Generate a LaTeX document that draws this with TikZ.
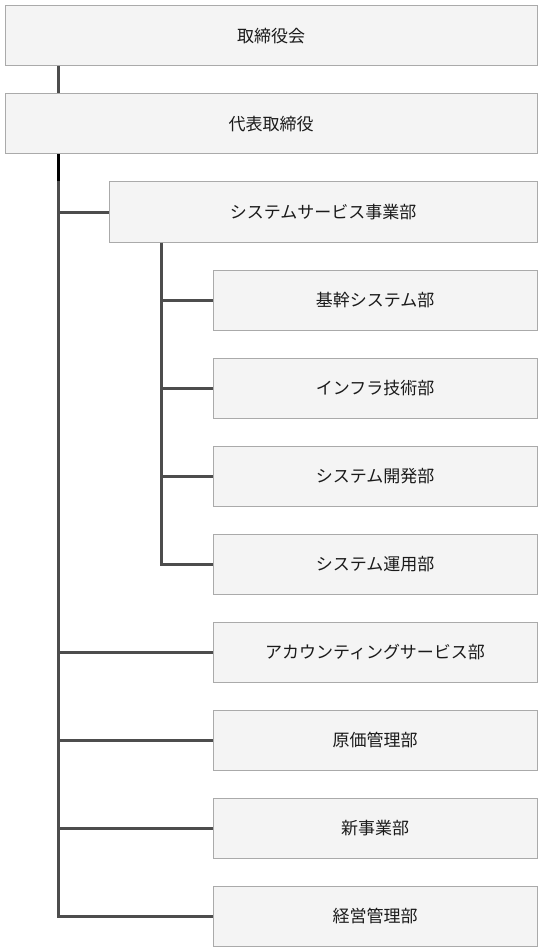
\documentclass[tikz,border=0pt]{standalone}
\usepackage{fontspec}
\setmainfont{Noto Sans CJK JP}
\usetikzlibrary{positioning}
\definecolor{orgfill}{HTML}{F4F4F4}
\definecolor{orgline}{HTML}{AAAAAA}
\definecolor{orgconn}{HTML}{4D4D4D}
\definecolor{orgtext}{HTML}{1A1A1A}

\begin{document}
\begin{tikzpicture}[x=1pt,y=-1pt,
  orgbox/.style={rectangle,draw=orgline,line width=1pt,fill=orgfill,
                 minimum height=60pt,inner sep=0pt,text=orgtext,
                 font=\fontsize{17pt}{20pt}\selectfont},
  conn/.style={draw=orgconn,line width=3pt}
]
\useasboundingbox (0,0) rectangle (542,952);

% ---- Spines --------------------------------------------------
\coordinate (spine)    at (58,0);
\coordinate (subspine) at (161,0);

% ---- Top level -----------------------------------------------
\node[orgbox,minimum width=532pt] (board) at (271,36)  {取締役会};
\node[orgbox,minimum width=532pt] (ceo)   at (271,124) {代表取締役};

% ---- System services division --------------------------------
\node[orgbox,minimum width=428pt] (sysdiv) at (323,212) {システムサービス事業部};
\node[orgbox,minimum width=324pt] (core)   at (375,300) {基幹システム部};
\node[orgbox,minimum width=324pt] (infra)  at (375,388) {インフラ技術部};
\node[orgbox,minimum width=324pt] (dev)    at (375,476) {システム開発部};
\node[orgbox,minimum width=324pt] (ops)    at (375,564) {システム運用部};

% ---- Other departments ---------------------------------------
\node[orgbox,minimum width=324pt] (acct)   at (375,652) {アカウンティングサービス部};
\node[orgbox,minimum width=324pt] (cost)   at (375,740) {原価管理部};
\node[orgbox,minimum width=324pt] (newbiz) at (375,828) {新事業部};
\node[orgbox,minimum width=324pt] (mgmt)   at (375,916) {経営管理部};

% ---- Connectors ----------------------------------------------
\draw[conn] (board.south -| spine) -- (ceo.north -| spine);
\draw[conn] (ceo.south -| spine) |- (mgmt.west);
\draw[conn,draw=black] (ceo.south -| spine) -- (sysdiv.north -| spine);
\draw[conn] (spine |- sysdiv.west) -- (sysdiv.west);
\draw[conn] (spine |- acct.west)   -- (acct.west);
\draw[conn] (spine |- cost.west)   -- (cost.west);
\draw[conn] (spine |- newbiz.west) -- (newbiz.west);

\draw[conn] (sysdiv.south -| subspine) |- (ops.west);
\draw[conn] (subspine |- core.west)  -- (core.west);
\draw[conn] (subspine |- infra.west) -- (infra.west);
\draw[conn] (subspine |- dev.west)   -- (dev.west);

\end{tikzpicture}
\end{document}
